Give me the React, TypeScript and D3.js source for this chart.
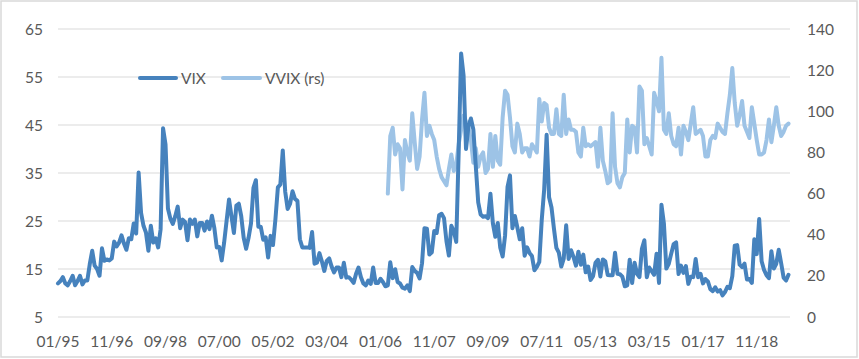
import * as d3 from "d3";

// month-end closes, 01/95 .. 12/19
const vix = [
  12.0, 12.5, 13.3, 12.0, 11.6, 12.5, 13.6, 11.6, 12.5, 13.6, 11.8, 12.6,
  12.6, 16.0, 18.8, 15.7, 15.0, 13.6, 19.3, 16.7, 17.0, 16.8, 17.2, 20.7,
  19.7, 20.5, 22.0, 20.3, 19.0, 21.4, 21.2, 24.5, 22.4, 35.1, 26.7, 24.0,
  22.6, 18.8, 24.0, 20.5, 21.4, 19.5, 23.3, 44.3, 41.0, 27.6, 25.5, 24.4,
  26.0, 28.0, 23.5, 25.3, 24.8, 21.0, 25.3, 24.4, 25.3, 21.8, 24.6, 24.6,
  23.0, 24.9, 23.3, 26.1, 23.5, 19.5, 19.6, 16.8, 20.5, 25.0, 29.5, 26.0,
  22.5, 28.2, 28.6, 26.0, 21.5, 19.2, 21.5, 24.5, 31.9, 33.5, 23.8, 23.8,
  21.1, 21.6, 17.4, 21.9, 20.0, 25.4, 32.0, 32.6, 39.7, 31.1, 27.5, 28.6,
  31.2, 29.6, 29.2, 21.2, 19.5, 19.5, 19.5, 19.4, 22.7, 16.1, 16.3, 18.3,
  16.6, 14.6, 16.7, 17.2, 15.5, 14.3, 15.3, 15.3, 13.3, 16.3, 13.2, 13.3,
  12.8, 12.1, 14.0, 15.3, 13.3, 12.0, 11.6, 12.6, 11.9, 15.3, 12.1, 12.1,
  12.95, 12.3, 11.4, 11.6, 16.4, 13.1, 14.95, 12.3, 11.98, 11.1, 10.9, 11.6,
  10.4, 15.4, 14.6, 14.2, 13.05, 16.2, 23.5, 23.4, 18.0, 18.5, 22.9, 22.5,
  26.2, 26.5, 25.6, 20.8, 17.8, 24.0, 22.9, 20.65, 39.4, 59.9, 55.3, 40.0,
  44.8, 46.35, 44.1, 36.5, 28.9, 26.35, 25.9, 26.0, 25.6, 30.7, 24.5, 21.7,
  24.6, 19.5, 17.6, 22.05, 32.1, 34.5, 23.5, 26.05, 23.7, 21.2, 23.5, 17.75,
  19.5, 18.35, 17.7, 14.75, 15.45, 16.5, 25.25, 31.6, 42.96, 29.96, 27.8, 23.4,
  19.4, 18.4, 15.5, 17.15, 24.1, 17.1, 18.9, 17.5, 15.7, 18.6, 15.9, 18.0,
  14.3, 15.5, 12.7, 13.5, 16.3, 16.9, 13.45, 17.0, 16.6, 13.75, 13.7, 13.7,
  18.4, 14.0, 13.9, 13.4, 11.4, 11.6, 16.95, 12.1, 16.3, 14.0, 13.3, 19.2,
  21.0, 13.3, 15.3, 14.55, 13.8, 18.2, 12.1, 28.4, 24.5, 15.1, 16.1, 18.2,
  20.2, 20.55, 13.95, 15.7, 14.2, 15.6, 11.9, 13.4, 13.3, 17.1, 13.3, 14.0,
  12.0, 12.9, 12.4, 10.8, 10.4, 11.2, 10.3, 10.6, 9.5, 10.2, 11.3, 11.0,
  13.5, 19.85, 19.97, 15.9, 15.4, 16.1, 12.8, 12.9, 12.1, 21.2, 18.1, 25.4,
  16.6, 14.8, 13.7, 13.1, 18.7, 15.1, 16.1, 19.0, 16.2, 13.2, 12.6, 13.8,
];

// VVIX starts later (right scale)
const vvixFrom = "04/06";
const vvix = [
  60, 88, 92, 79, 84, 82, 62, 86, 80, 76, 99, 85, 72, 78, 96,
  109, 88, 93, 89, 86, 78, 72, 68, 66, 64,
  72, 79, 71, 74, 84, 91, 98, 95, 92, 86,
  75, 82, 73, 78, 80, 70, 72, 89, 73, 88,
  76, 74, 97, 110, 108, 97, 83, 80, 94, 89,
  80, 82, 82, 78, 84, 82, 80, 106, 95, 104,
  103, 92, 89, 89, 101, 89, 88, 108, 89, 96,
  91, 91, 90, 80, 78, 92, 83, 84, 83, 84,
  85, 73, 92, 76, 71, 65, 66, 99, 73, 65,
  63, 68, 70, 96, 80, 93, 92, 80, 112, 110,
  84, 87, 83, 79, 109, 105, 100, 126, 91, 89,
  99, 88, 84, 83, 92, 79, 93, 90, 86, 94,
  102, 89, 90, 91, 88, 78, 78, 86, 88, 87,
  94, 92, 90, 89, 99, 108, 121, 104, 93, 98,
  105, 93, 90, 87, 102, 94, 86, 79, 79, 80,
  86, 96, 85, 93, 102, 93, 88, 90, 93, 94,
];

const tickLabels = ["01/95", "11/96", "09/98", "07/00", "05/02", "03/04", "01/06",
  "11/07", "09/09", "07/11", "05/13", "03/15", "01/17", "11/18"];
const leftTicks = [5, 15, 25, 35, 45, 55, 65];
const rightTicks = [0, 20, 40, 60, 80, 100, 120, 140];

const pad = (n: number) => String(n).padStart(2, "0");
const categories = vix.map((_, i) => `${pad((i % 12) + 1)}/${pad((95 + Math.floor(i / 12)) % 100)}`);

const VIX_COLOR = "#4682bd";
const VVIX_COLOR = "#9dc3e6";
const TEXT = "#595959";
const FONT = "Lato, 'Open Sans', sans-serif";
const FS = 15.5;

export default function App() {
  const width = 859;
  const height = 359;
  const top = 29;
  const bottom = 317;
  const left = 58;

  const x = d3.scalePoint<string>().domain(categories).range([left, 788.5]);
  const yL = d3.scaleLinear().domain([5, 65]).range([bottom, top]);
  const yR = d3.scaleLinear().domain([0, 140]).range([bottom, top]);

  const offset = categories.indexOf(vvixFrom);

  const vixPath = d3
    .line<number>()
    .x((_, i) => x(categories[i])!)
    .y((d) => yL(d))(vix)!;

  const vvixPath = d3
    .line<number>()
    .x((_, i) => x(categories[i + offset])!)
    .y((d) => yR(d))(vvix)!;

  return (
    <svg
      width={width}
      height={height}
      style={{ position: "absolute", left: 0, top: 0, background: "#fff" }}
      fontFamily={FONT}
    >
      <rect x={1} y={1} width={856} height={356} fill="#fff" stroke="#d9d9d9" strokeWidth={1.5} />

      {leftTicks.map((t) => (
        <line key={t} x1={left} x2={790} y1={yL(t)} y2={yL(t)} stroke="#d9d9d9" strokeWidth={1} />
      ))}

      {leftTicks.map((t) => (
        <text key={t} x={43} y={yL(t)} dy="0.36em" textAnchor="end" fontSize={FS} fill={TEXT}>
          {t}
        </text>
      ))}

      {rightTicks.map((t) => (
        <text key={t} x={807} y={yR(t)} dy="0.36em" textAnchor="start" fontSize={FS} fill={TEXT}>
          {t}
        </text>
      ))}

      {tickLabels.map((l) => (
        <text key={l} x={x(l)!} y={347} textAnchor="middle" fontSize={FS} fill={TEXT}>
          {l}
        </text>
      ))}

      <path d={vvixPath} fill="none" stroke={VVIX_COLOR} strokeWidth={4} strokeLinejoin="round" strokeLinecap="round" />
      <path d={vixPath} fill="none" stroke={VIX_COLOR} strokeWidth={4} strokeLinejoin="round" strokeLinecap="round" />

      {/* legend */}
      <g fontSize={FS} fill={TEXT}>
        <line x1={140} x2={176} y1={78} y2={78} stroke={VIX_COLOR} strokeWidth={4} strokeLinecap="round" />
        <text x={181} y={78} dy="0.36em">VIX</text>
        <line x1={223} x2={260} y1={78} y2={78} stroke={VVIX_COLOR} strokeWidth={4} strokeLinecap="round" />
        <text x={265} y={78} dy="0.36em">VVIX (rs)</text>
      </g>
    </svg>
  );
}
